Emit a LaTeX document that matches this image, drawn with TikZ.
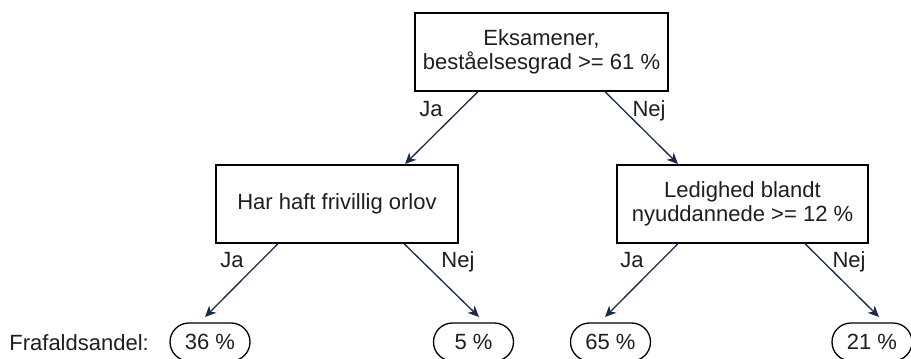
\documentclass[tikz,border=0pt]{standalone}
\usepackage{fontspec}
\setmainfont{Liberation Sans}
\usetikzlibrary{arrows.meta,calc}
\definecolor{arrowc}{HTML}{1B2A47}
\definecolor{txt}{HTML}{1E1E1E}
\begin{document}
\begin{tikzpicture}[x=0.5pt,y=-0.5pt,
  every node/.style={font=\fontsize{11}{12.2}\selectfont, text=txt, inner sep=0pt},
  box/.style={draw=black, line width=0.65pt, align=center, minimum height=39pt},
  leaf/.style={draw=black, line width=0.65pt, rounded corners=9.5pt, minimum width=40pt, minimum height=19pt},
  conn/.style={draw=arrowc, line width=0.65pt, -{Stealth[length=5.5pt,width=5pt,inset=1.6pt]}},
  lbl/.style={anchor=base}]
\useasboundingbox (0,0) rectangle (911,359);
% decision boxes
\node[box, minimum width=126.5pt] (top) at (541.5,52) {Eksamener,\\beståelsesgrad >= 61 \%};
\node[box, minimum width=121pt] (left) at (337,204) {Har haft frivillig orlov};
\node[box, minimum width=125.5pt] (right) at (742.5,204) {Ledighed blandt\\nyuddannede >= 12 \%};
% leaves
\node[leaf] (l1) at (210,342) {36 \%};
\node[leaf] (l2) at (473.5,342) {5 \%};
\node[leaf] (l3) at (610.5,342) {65 \%};
\node[leaf] (l4) at (872,342) {21 \%};
\node[anchor=base west] (fr) at (9,350) {Frafaldsandel:};
% arrow tips
\coordinate (t1) at (405,164);
\coordinate (t2) at (678,164);
\coordinate (t3) at (205,317);
\coordinate (t4) at (479,317);
\coordinate (t5) at (605,317);
\coordinate (t6) at (879,317);
% connectors
\draw[conn] ($(top.south)+(-63.5,0)$) -- (t1);
\draw[conn] ($(top.south)+(63.5,0)$) -- (t2);
\draw[conn] ($(left.south)+(-59,0)$) -- (t3);
\draw[conn] ($(left.south)+(67,0)$) -- (t4);
\draw[conn] ($(right.south)+(-64.5,0)$) -- (t5);
\draw[conn] ($(right.south)+(62.5,0)$) -- (t6);
% labels
\node[lbl] (ja1) at (431,116) {Ja};
\node[lbl] (nej1) at (649,116) {Nej};
\node[lbl] (ja2) at (232,267) {Ja};
\node[lbl] (nej2) at (458,267) {Nej};
\node[lbl] (ja3) at (632,267) {Ja};
\node[lbl] (nej3) at (849,267) {Nej};
\end{tikzpicture}
\end{document}
